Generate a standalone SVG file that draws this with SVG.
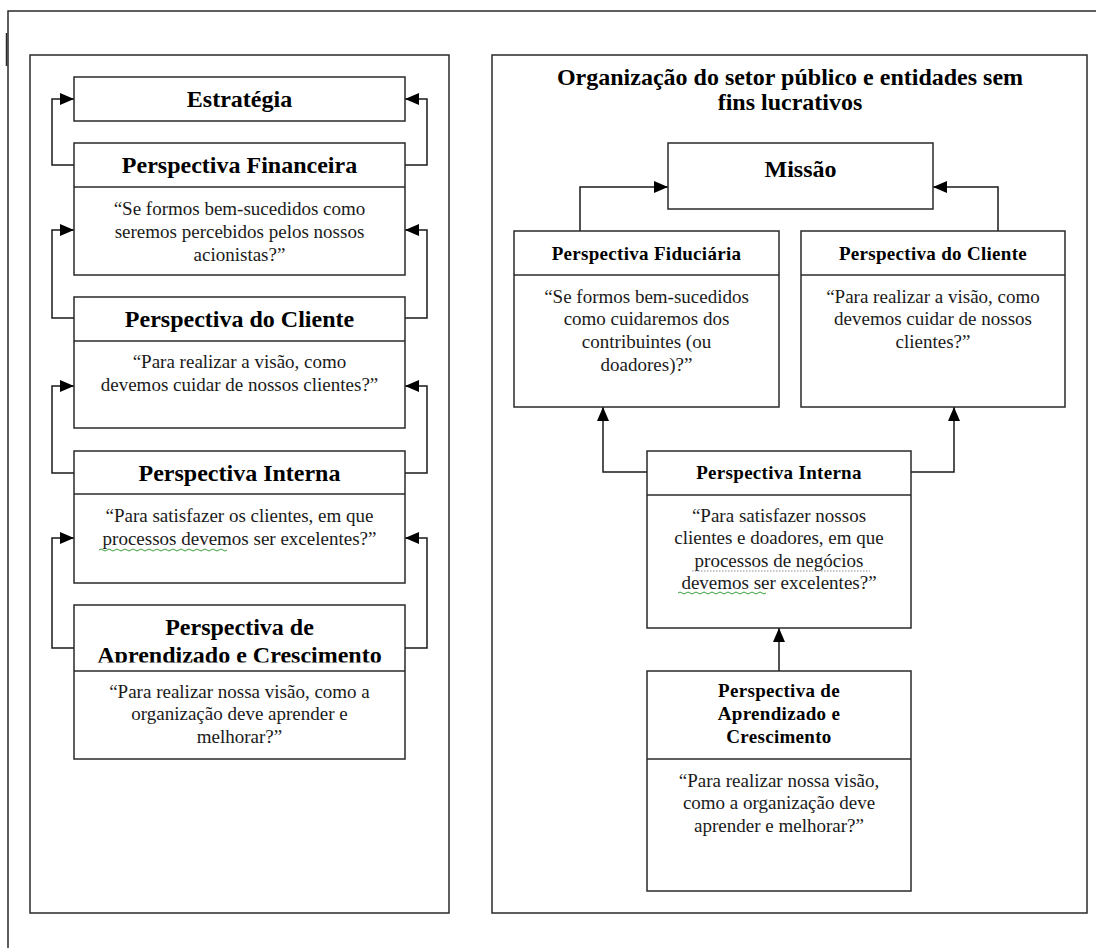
<svg xmlns="http://www.w3.org/2000/svg" width="1096" height="948" viewBox="0 0 1096 948">
<defs>
<style>
.frame{fill:none;stroke:#2a2a2a;stroke-width:1.5}
.box{fill:#fff;stroke:#2a2a2a;stroke-width:1.5}
.div{stroke:#2a2a2a;stroke-width:1.5}
.conn{fill:none;stroke:#1a1a1a;stroke-width:1.5}
.h24{font-family:"Liberation Serif","Times New Roman",serif;font-weight:bold;font-size:24px;fill:#000;text-anchor:middle}
.h19{font-family:"Liberation Serif","Times New Roman",serif;font-weight:bold;font-size:19px;fill:#000;text-anchor:middle;letter-spacing:0.3px}
.b19{font-family:"Liberation Serif","Times New Roman",serif;font-size:19px;fill:#1a1a1a;text-anchor:middle}
.sq{fill:none;stroke:#3aa03a;stroke-width:1}
.sqg{fill:none;stroke:#8a8a8a;stroke-width:1;stroke-dasharray:1.5 1.5}
</style>
<marker id="ah" viewBox="0 0 14 12" refX="14" refY="6" markerWidth="14" markerHeight="12" markerUnits="userSpaceOnUse" orient="auto">
<path d="M0,0 L14,6 L0,12 Z" fill="#000"/>
</marker>
<clipPath id="clipL">
<rect x="74" y="605" width="331" height="57.5"/>
</clipPath>
</defs>

<g id="outer-frame">
<path class="frame" d="M8,948 V11 H1096"/>
<path class="frame" d="M6.5,33 V66"/>
</g>

<g id="left-panel">
<rect class="frame" x="30" y="55" width="419" height="858"/>
</g>

<g id="right-panel">
<rect class="frame" x="492" y="55" width="595" height="858"/>
<text class="h24" x="790" y="85">Organização do setor público e entidades sem</text>
<text class="h24" x="790" y="110">fins lucrativos</text>
</g>

<g id="connectors">
<path class="conn" d="M74,165 H52 V99 H74" marker-end="url(#ah)"/>
<path class="conn" d="M405,165 H427 V99 H405" marker-end="url(#ah)"/>
<path class="conn" d="M74,318 H52 V230 H74" marker-end="url(#ah)"/>
<path class="conn" d="M405,318 H427 V230 H405" marker-end="url(#ah)"/>
<path class="conn" d="M74,473 H52 V386 H74" marker-end="url(#ah)"/>
<path class="conn" d="M405,473 H427 V386 H405" marker-end="url(#ah)"/>
<path class="conn" d="M74,648 H52 V538 H74" marker-end="url(#ah)"/>
<path class="conn" d="M405,648 H427 V538 H405" marker-end="url(#ah)"/>
<path class="conn" d="M580,231 V187 H668" marker-end="url(#ah)"/>
<path class="conn" d="M998,231 V187 H933" marker-end="url(#ah)"/>
<path class="conn" d="M647,472 H603 V407" marker-end="url(#ah)"/>
<path class="conn" d="M911,472 H954 V407" marker-end="url(#ah)"/>
<path class="conn" d="M779,671 V628" marker-end="url(#ah)"/>
</g>

<g id="estrategia">
<rect class="box" x="74" y="77" width="331" height="44"/>
<text class="h24" x="239.5" y="107">Estratégia</text>
</g>

<g id="l-financeira">
<rect class="box" x="74" y="143" width="331" height="132"/>
<line class="div" x1="74" y1="187" x2="405" y2="187"/>
<text class="h24" x="239.5" y="173">Perspectiva Financeira</text>
<text class="b19" x="239.5" y="215">“Se formos bem-sucedidos como</text>
<text class="b19" x="239.5" y="238">seremos percebidos pelos nossos</text>
<text class="b19" x="239.5" y="261">acionistas?”</text>
</g>

<g id="l-cliente">
<rect class="box" x="74" y="297" width="331" height="131"/>
<line class="div" x1="74" y1="341" x2="405" y2="341"/>
<text class="h24" x="239.5" y="327">Perspectiva do Cliente</text>
<text class="b19" x="239.5" y="368">“Para realizar a visão, como</text>
<text class="b19" x="239.5" y="391">devemos cuidar de nossos clientes?”</text>
</g>

<g id="l-interna">
<rect class="box" x="74" y="451" width="331" height="132"/>
<line class="div" x1="74" y1="494" x2="405" y2="494"/>
<text class="h24" x="239.5" y="481">Perspectiva Interna</text>
<text class="b19" x="239.5" y="522">“Para satisfazer os clientes, em que</text>
<text class="b19" x="239.5" y="545">processos devemos ser excelentes?”</text>
<path class="sq" d="M99,550 q2,-2 4,0 t4,0 t4,0 t4,0 t4,0 t4,0 t4,0 t4,0 t4,0 t4,0 t4,0 t4,0 t4,0 t4,0 t4,0 t4,0 t4,0 t4,0 t4,0 t4,0 t4,0 t4,0 t4,0 t4,0 t4,0 t4,0 t4,0 t4,0 t4,0 t4,0 t4,0 t4,0"/>
</g>

<g id="l-aprendizado">
<rect class="box" x="74" y="605" width="331" height="154"/>
<g clip-path="url(#clipL)">
<text class="h24" x="239.5" y="635">Perspectiva de</text>
<text class="h24" x="239.5" y="663">Aprendizado e Crescimento</text>
</g>
<line class="div" x1="74" y1="671" x2="405" y2="671"/>
<text class="b19" x="239.5" y="698">“Para realizar nossa visão, como a</text>
<text class="b19" x="239.5" y="720">organização deve aprender e</text>
<text class="b19" x="239.5" y="743">melhorar?”</text>
</g>

<g id="missao">
<rect class="box" x="668" y="143" width="265" height="66"/>
<text class="h24" x="800.5" y="177">Missão</text>
</g>

<g id="r-fiduciaria">
<rect class="box" x="514" y="231" width="265" height="176"/>
<line class="div" x1="514" y1="275" x2="779" y2="275"/>
<text class="h19" x="646.5" y="260">Perspectiva Fiduciária</text>
<text class="b19" x="646.5" y="303">“Se formos bem-sucedidos</text>
<text class="b19" x="646.5" y="325">como cuidaremos dos</text>
<text class="b19" x="646.5" y="348">contribuintes (ou</text>
<text class="b19" x="646.5" y="371">doadores)?”</text>
</g>

<g id="r-cliente">
<rect class="box" x="801" y="231" width="264" height="176"/>
<line class="div" x1="801" y1="275" x2="1065" y2="275"/>
<text class="h19" x="933" y="260">Perspectiva do Cliente</text>
<text class="b19" x="933" y="303">“Para realizar a visão, como</text>
<text class="b19" x="933" y="325">devemos cuidar de nossos</text>
<text class="b19" x="933" y="348">clientes?”</text>
</g>

<g id="r-interna">
<rect class="box" x="647" y="451" width="264" height="177"/>
<line class="div" x1="647" y1="495" x2="911" y2="495"/>
<text class="h19" x="779" y="479">Perspectiva Interna</text>
<text class="b19" x="779" y="522">“Para satisfazer nossos</text>
<text class="b19" x="779" y="544">clientes e doadores, em que</text>
<text class="b19" x="779" y="567">processos de negócios</text>
<text class="b19" x="779" y="589">devemos ser excelentes?”</text>
<path class="sqg" d="M692,571 H870"/>
<path class="sq" d="M678,593 q2,-2 4,0 t4,0 t4,0 t4,0 t4,0 t4,0 t4,0 t4,0 t4,0 t4,0 t4,0 t4,0 t4,0 t4,0 t4,0 t4,0 t4,0 t4,0 t4,0 t4,0 t4,0 t4,0"/>
</g>

<g id="r-aprendizado">
<rect class="box" x="647" y="671" width="264" height="220"/>
<line class="div" x1="647" y1="759" x2="911" y2="759"/>
<text class="h19" x="779" y="697">Perspectiva de</text>
<text class="h19" x="779" y="720">Aprendizado e</text>
<text class="h19" x="779" y="743">Crescimento</text>
<text class="b19" x="779" y="787">“Para realizar nossa visão,</text>
<text class="b19" x="779" y="809">como a organização deve</text>
<text class="b19" x="779" y="832">aprender e melhorar?”</text>
</g>
</svg>
